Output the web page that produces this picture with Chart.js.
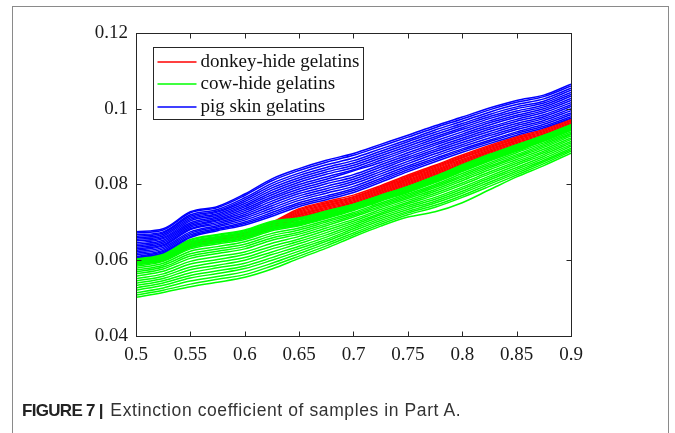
<!DOCTYPE html>
<html>
<head>
<meta charset="utf-8">
<script src="https://cdn.jsdelivr.net/npm/chart.js@4.4.1/dist/chart.umd.min.js"></script>
<style>
  html, body { margin: 0; padding: 0; background: #fff; }
  #page { position: relative; width: 675px; height: 433px; overflow: hidden; }
  #box { position: absolute; left: 12px; top: 6px; width: 657px; height: 460px;
         border: 1.5px solid #8a8a8a; box-sizing: border-box; }
  #chart { position: absolute; left: 0; top: 0; }
  #caption { position: absolute; left: 22px; top: 400px; font-family: "Liberation Sans", Arial, sans-serif;
             font-size: 17.5px; letter-spacing: 0.6px; color: #333; white-space: nowrap; }
  #caption b { color: #222; font-size: 17px; letter-spacing: -0.7px; margin-right: 2px; }
</style>
</head>
<body>
<div id="page">
  <div id="box"></div>
  <canvas id="chart" width="675" height="433"></canvas>
  <div id="caption"><b>FIGURE 7 |</b> Extinction coefficient of samples in Part A.</div>
</div>
<script>
// Wavelength grid shared by every curve
const wavelengths = [0.5, 0.525, 0.55, 0.575, 0.6, 0.625, 0.65, 0.675, 0.7, 0.725, 0.75, 0.775, 0.8, 0.825, 0.85, 0.875, 0.9];

const xTickLabels = ['0.5', '0.55', '0.6', '0.65', '0.7', '0.75', '0.8', '0.85', '0.9'];
const yTickLabels = ['0.04', '0.06', '0.08', '0.1', '0.12'];

const groupNames = ['donkey-hide gelatins', 'cow-hide gelatins', 'pig skin gelatins'];
const groupColors = ['#ff0000', '#00ff00', '#0000ff'];
const groupWidths = [1.5, 1.5, 1.5];

// Extinction coefficient curves, one row per sample
const donkeyCurves = [
  [0.0600,0.0608,0.0645,0.0660,0.0672,0.0700,0.0736,0.0755,0.0772,0.0797,0.0825,0.0851,0.0878,0.0903,0.0926,0.0946,0.0973],
  [0.0599,0.0607,0.0644,0.0659,0.0671,0.0698,0.0733,0.0752,0.0768,0.0794,0.0822,0.0848,0.0875,0.0900,0.0923,0.0943,0.0970],
  [0.0598,0.0606,0.0643,0.0658,0.0670,0.0696,0.0730,0.0749,0.0766,0.0791,0.0819,0.0845,0.0872,0.0897,0.0920,0.0940,0.0967],
  [0.0597,0.0605,0.0642,0.0657,0.0669,0.0694,0.0727,0.0746,0.0763,0.0788,0.0816,0.0842,0.0870,0.0894,0.0917,0.0937,0.0964],
  [0.0596,0.0604,0.0641,0.0656,0.0668,0.0692,0.0724,0.0743,0.0760,0.0785,0.0813,0.0839,0.0866,0.0891,0.0914,0.0934,0.0961],
  [0.0595,0.0603,0.0640,0.0655,0.0667,0.0690,0.0721,0.0740,0.0757,0.0782,0.0810,0.0836,0.0863,0.0888,0.0911,0.0931,0.0958],
  [0.0594,0.0602,0.0639,0.0654,0.0666,0.0688,0.0718,0.0737,0.0754,0.0779,0.0807,0.0833,0.0860,0.0885,0.0908,0.0928,0.0955],
  [0.0593,0.0601,0.0638,0.0653,0.0665,0.0686,0.0715,0.0734,0.0751,0.0776,0.0804,0.0830,0.0857,0.0882,0.0905,0.0925,0.0952],
  [0.0592,0.0600,0.0637,0.0652,0.0664,0.0684,0.0712,0.0731,0.0748,0.0773,0.0801,0.0827,0.0854,0.0879,0.0902,0.0922,0.0949],
  [0.0591,0.0599,0.0636,0.0651,0.0663,0.0682,0.0709,0.0728,0.0745,0.0770,0.0798,0.0824,0.0851,0.0876,0.0899,0.0919,0.0946]
];

const cowCurves = [
  [0.0605,0.0618,0.0655,0.0668,0.0680,0.0703,0.0712,0.0730,0.0748,0.0772,0.0795,0.0822,0.0852,0.0880,0.0905,0.0930,0.0958],
  [0.0603,0.0616,0.0653,0.0666,0.0678,0.0701,0.0710,0.0728,0.0747,0.0771,0.0794,0.0821,0.0850,0.0878,0.0904,0.0929,0.0957],
  [0.0601,0.0614,0.0650,0.0663,0.0675,0.0698,0.0708,0.0726,0.0745,0.0769,0.0792,0.0819,0.0848,0.0876,0.0902,0.0927,0.0955],
  [0.0599,0.0612,0.0648,0.0661,0.0673,0.0696,0.0706,0.0724,0.0743,0.0767,0.0791,0.0817,0.0847,0.0875,0.0900,0.0926,0.0954],
  [0.0597,0.0610,0.0645,0.0658,0.0670,0.0693,0.0703,0.0722,0.0741,0.0765,0.0789,0.0815,0.0845,0.0873,0.0898,0.0924,0.0952],
  [0.0595,0.0608,0.0643,0.0656,0.0668,0.0691,0.0701,0.0720,0.0740,0.0764,0.0787,0.0814,0.0843,0.0871,0.0897,0.0922,0.0951],
  [0.0593,0.0606,0.0640,0.0653,0.0665,0.0688,0.0699,0.0718,0.0738,0.0762,0.0785,0.0812,0.0841,0.0869,0.0895,0.0920,0.0949],
  [0.0591,0.0604,0.0638,0.0651,0.0663,0.0686,0.0697,0.0716,0.0736,0.0761,0.0784,0.0810,0.0839,0.0868,0.0893,0.0919,0.0948],
  [0.0589,0.0602,0.0635,0.0648,0.0660,0.0683,0.0695,0.0714,0.0734,0.0759,0.0782,0.0808,0.0837,0.0866,0.0891,0.0917,0.0946],
  [0.0587,0.0600,0.0633,0.0646,0.0658,0.0681,0.0693,0.0712,0.0733,0.0758,0.0781,0.0807,0.0836,0.0864,0.0890,0.0916,0.0945],
  [0.0584,0.0597,0.0630,0.0643,0.0655,0.0678,0.0691,0.0710,0.0731,0.0756,0.0779,0.0805,0.0834,0.0862,0.0888,0.0914,0.0943],
  [0.0579,0.0592,0.0624,0.0636,0.0649,0.0671,0.0685,0.0705,0.0726,0.0751,0.0775,0.0800,0.0829,0.0857,0.0884,0.0910,0.0939],
  [0.0574,0.0587,0.0617,0.0630,0.0642,0.0665,0.0680,0.0701,0.0722,0.0747,0.0771,0.0796,0.0824,0.0853,0.0879,0.0906,0.0935],
  [0.0569,0.0582,0.0611,0.0624,0.0636,0.0659,0.0674,0.0696,0.0718,0.0743,0.0767,0.0792,0.0820,0.0848,0.0875,0.0902,0.0932],
  [0.0564,0.0577,0.0605,0.0618,0.0630,0.0653,0.0669,0.0691,0.0714,0.0739,0.0763,0.0787,0.0815,0.0844,0.0871,0.0898,0.0928],
  [0.0558,0.0571,0.0597,0.0610,0.0622,0.0645,0.0663,0.0685,0.0708,0.0734,0.0758,0.0782,0.0810,0.0839,0.0866,0.0893,0.0923],
  [0.0551,0.0564,0.0590,0.0602,0.0615,0.0637,0.0656,0.0679,0.0703,0.0729,0.0753,0.0777,0.0804,0.0833,0.0861,0.0888,0.0919],
  [0.0545,0.0558,0.0582,0.0595,0.0607,0.0630,0.0650,0.0673,0.0698,0.0724,0.0749,0.0772,0.0799,0.0828,0.0856,0.0884,0.0914],
  [0.0539,0.0552,0.0575,0.0587,0.0600,0.0622,0.0644,0.0667,0.0693,0.0720,0.0744,0.0766,0.0793,0.0822,0.0851,0.0879,0.0910],
  [0.0533,0.0546,0.0567,0.0580,0.0592,0.0615,0.0637,0.0661,0.0688,0.0715,0.0739,0.0761,0.0788,0.0817,0.0845,0.0874,0.0905],
  [0.0527,0.0540,0.0560,0.0572,0.0585,0.0607,0.0631,0.0655,0.0683,0.0710,0.0734,0.0756,0.0782,0.0812,0.0840,0.0869,0.0901],
  [0.0521,0.0534,0.0553,0.0565,0.0578,0.0600,0.0624,0.0650,0.0678,0.0705,0.0729,0.0751,0.0777,0.0806,0.0835,0.0864,0.0896],
  [0.0514,0.0527,0.0545,0.0557,0.0570,0.0592,0.0618,0.0644,0.0672,0.0700,0.0725,0.0745,0.0771,0.0801,0.0830,0.0860,0.0892],
  [0.0508,0.0521,0.0537,0.0550,0.0562,0.0585,0.0611,0.0638,0.0667,0.0695,0.0720,0.0740,0.0766,0.0795,0.0825,0.0855,0.0888],
  [0.0502,0.0515,0.0530,0.0542,0.0555,0.0577,0.0605,0.0632,0.0662,0.0690,0.0714,0.0728,0.0752,0.0786,0.0820,0.0850,0.0883]
];

const pigCurves = [
  [0.0675,0.0683,0.0728,0.0742,0.0775,0.0815,0.0842,0.0864,0.0882,0.0906,0.0930,0.0955,0.0978,0.1002,0.1022,0.1036,0.1065],
  [0.0672,0.0680,0.0725,0.0739,0.0771,0.0810,0.0837,0.0859,0.0877,0.0901,0.0925,0.0950,0.0973,0.0997,0.1017,0.1032,0.1060],
  [0.0667,0.0675,0.0720,0.0734,0.0765,0.0803,0.0830,0.0852,0.0870,0.0894,0.0918,0.0944,0.0967,0.0991,0.1011,0.1026,0.1054],
  [0.0663,0.0672,0.0716,0.0730,0.0760,0.0797,0.0824,0.0845,0.0863,0.0888,0.0913,0.0938,0.0961,0.0985,0.1005,0.1020,0.1049],
  [0.0659,0.0668,0.0712,0.0727,0.0755,0.0791,0.0818,0.0839,0.0857,0.0882,0.0907,0.0932,0.0956,0.0979,0.1000,0.1015,0.1043],
  [0.0655,0.0664,0.0708,0.0723,0.0750,0.0785,0.0812,0.0833,0.0851,0.0876,0.0901,0.0926,0.0950,0.0974,0.0994,0.1010,0.1038],
  [0.0651,0.0660,0.0704,0.0719,0.0745,0.0779,0.0806,0.0827,0.0845,0.0870,0.0895,0.0921,0.0945,0.0968,0.0989,0.1005,0.1033],
  [0.0646,0.0657,0.0699,0.0715,0.0741,0.0773,0.0800,0.0820,0.0839,0.0864,0.0890,0.0915,0.0939,0.0963,0.0983,0.1000,0.1027],
  [0.0642,0.0653,0.0695,0.0711,0.0736,0.0767,0.0794,0.0814,0.0836,0.0858,0.0884,0.0909,0.0933,0.0957,0.0978,0.0995,0.1022],
  [0.0638,0.0649,0.0691,0.0707,0.0731,0.0762,0.0788,0.0808,0.0826,0.0852,0.0878,0.0904,0.0928,0.0951,0.0972,0.0990,0.1016],
  [0.0634,0.0645,0.0687,0.0704,0.0726,0.0756,0.0782,0.0802,0.0820,0.0846,0.0872,0.0898,0.0922,0.0946,0.0967,0.0984,0.1011],
  [0.0630,0.0641,0.0683,0.0700,0.0721,0.0750,0.0776,0.0795,0.0814,0.0840,0.0867,0.0892,0.0917,0.0940,0.0961,0.0979,0.1006],
  [0.0626,0.0638,0.0681,0.0696,0.0716,0.0744,0.0770,0.0789,0.0808,0.0834,0.0861,0.0887,0.0911,0.0934,0.0956,0.0974,0.1000],
  [0.0622,0.0634,0.0675,0.0692,0.0711,0.0738,0.0764,0.0783,0.0802,0.0828,0.0855,0.0881,0.0905,0.0929,0.0950,0.0969,0.0995],
  [0.0618,0.0630,0.0671,0.0688,0.0706,0.0732,0.0758,0.0777,0.0795,0.0822,0.0849,0.0875,0.0900,0.0923,0.0945,0.0964,0.0989],
  [0.0614,0.0626,0.0667,0.0684,0.0701,0.0726,0.0752,0.0770,0.0789,0.0816,0.0844,0.0869,0.0894,0.0917,0.0939,0.0959,0.0984],
  [0.0610,0.0623,0.0663,0.0681,0.0697,0.0721,0.0747,0.0765,0.0784,0.0811,0.0839,0.0865,0.0890,0.0913,0.0935,0.0954,0.0979],
  [0.0607,0.0620,0.0660,0.0678,0.0693,0.0716,0.0742,0.0760,0.0779,0.0806,0.0834,0.0860,0.0885,0.0908,0.0930,0.0950,0.0975]
];

const groups = [donkeyCurves, cowCurves, pigCurves];

// One line dataset per sample; pig skin is drawn last so it sits on top
const datasets = [];
groups.forEach((curves, g) => {
  curves.forEach(values => {
    datasets.push({
      label: groupNames[g],
      data: values.map((v, i) => ({ x: wavelengths[i], y: v })),
      borderColor: groupColors[g],
      borderWidth: groupWidths[g],
      pointRadius: 0,
      fill: false,
      cubicInterpolationMode: 'monotone',
      order: 3 - g
    });
  });
});

const serif = '"Liberation Serif", "Times New Roman", serif';

// Closed axes box, inward ticks on all sides and the boxed legend
const axesBox = {
  id: 'axesBox',
  afterDraw(chart) {
    const { ctx, chartArea: a, scales: { x, y } } = chart;
    const L = Math.round(a.left) + 0.5, R = Math.round(a.right) + 0.5;
    const T = Math.round(a.top) + 0.5, B = Math.round(a.bottom) + 0.5;
    ctx.save();
    ctx.strokeStyle = '#262626';
    ctx.lineWidth = 1;
    ctx.strokeRect(L, T, R - L, B - T);
    const tl = 5;
    ctx.beginPath();
    xTickLabels.forEach(lbl => {
      const px = Math.round(x.getPixelForValue(parseFloat(lbl))) + 0.5;
      ctx.moveTo(px, B); ctx.lineTo(px, B - tl);
      ctx.moveTo(px, T); ctx.lineTo(px, T + tl);
    });
    yTickLabels.forEach(lbl => {
      const py = Math.round(y.getPixelForValue(parseFloat(lbl))) + 0.5;
      ctx.moveTo(L, py); ctx.lineTo(L + tl, py);
      ctx.moveTo(R, py); ctx.lineTo(R - tl, py);
    });
    ctx.stroke();

    // legend
    const lx = L + 17, ly = T + 14, lw = 210, lh = 72;
    ctx.fillStyle = '#fff';
    ctx.fillRect(lx, ly, lw, lh);
    ctx.strokeStyle = '#262626';
    ctx.strokeRect(lx, ly, lw, lh);
    ctx.font = '19px ' + serif;
    ctx.textBaseline = 'middle';
    ctx.textAlign = 'left';
    groupNames.forEach((name, i) => {
      const ry = Math.round(ly + 14.5 + i * 22.3);
      ctx.strokeStyle = groupColors[i];
      ctx.lineWidth = 1.5;
      ctx.beginPath();
      ctx.moveTo(lx + 4, ry); ctx.lineTo(lx + 43, ry);
      ctx.stroke();
      ctx.fillStyle = '#111';
      ctx.fillText(name, lx + 47, ry);
    });
    ctx.restore();
  }
};

new Chart(document.getElementById('chart'), {
  type: 'line',
  data: { datasets },
  options: {
    responsive: false,
    animation: false,
    devicePixelRatio: 1,
    layout: { padding: { left: 86, right: 104, top: 33, bottom: 57 } },
    plugins: { legend: { display: false }, tooltip: { enabled: false } },
    scales: {
      x: {
        type: 'linear',
        min: 0.5, max: 0.9,
        afterFit: s => { s.height = 40; },
        afterBuildTicks: s => { s.ticks = xTickLabels.map(l => ({ value: parseFloat(l) })); },
        grid: { display: false, drawTicks: false },
        border: { display: false },
        ticks: {
          autoSkip: false, maxRotation: 0, padding: 8,
          color: '#1a1a1a', font: { family: serif, size: 19 },
          callback: (v, i) => xTickLabels[i]
        }
      },
      y: {
        type: 'linear',
        min: 0.04, max: 0.12,
        afterFit: s => { s.width = 50; },
        afterBuildTicks: s => { s.ticks = yTickLabels.map(l => ({ value: parseFloat(l) })); },
        grid: { display: false, drawTicks: false },
        border: { display: false },
        ticks: {
          autoSkip: false, padding: 8,
          color: '#1a1a1a', font: { family: serif, size: 19 },
          callback: (v, i) => yTickLabels[i]
        }
      }
    }
  },
  plugins: [axesBox]
});
</script>
</body>
</html>
